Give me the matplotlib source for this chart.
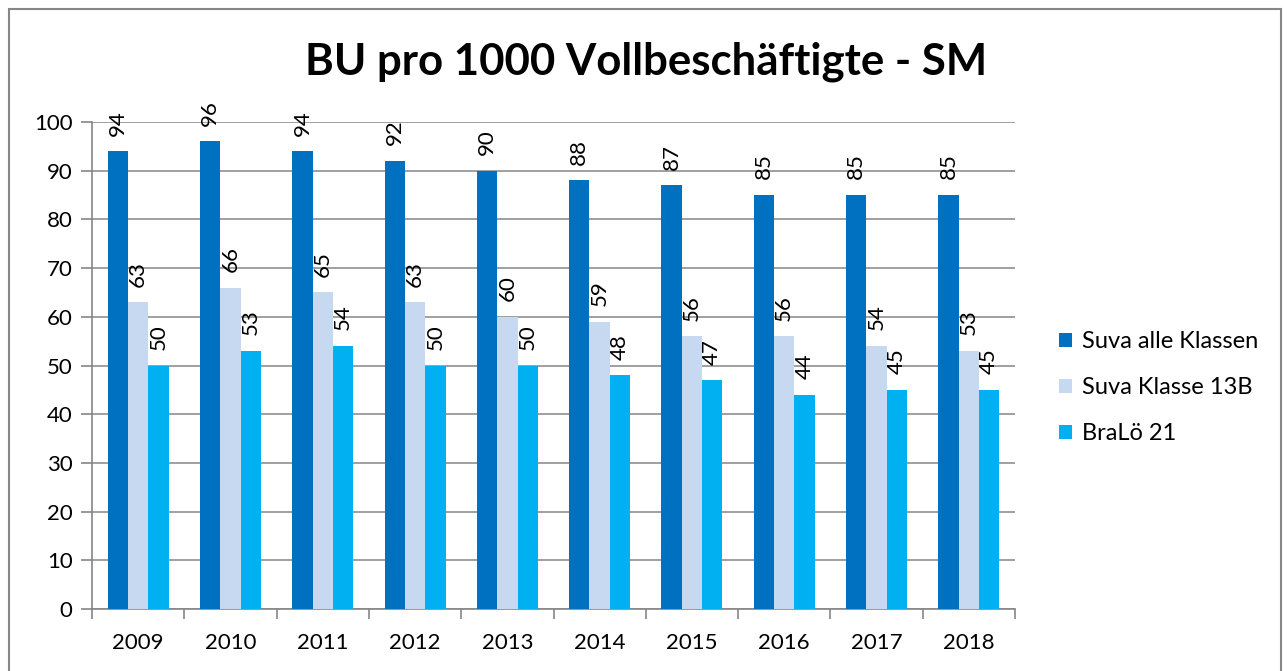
import numpy as np
import matplotlib
matplotlib.use("Agg")
import matplotlib.pyplot as plt
from matplotlib.patches import Rectangle

# ── Data ──────────────────────────────────────────────────────────────────────
years = ["2009", "2010", "2011", "2012", "2013", "2014", "2015", "2016", "2017", "2018"]
suva_alle = [94, 96, 94, 92, 90, 88, 87, 85, 85, 85]
suva_13b = [63, 66, 65, 63, 60, 59, 56, 56, 54, 53]
bralo_21 = [50, 53, 54, 50, 50, 48, 47, 44, 45, 45]

series_names = ["Suva alle Klassen", "Suva Klasse 13B", "BraLö 21"]
colors = ["#0070C0", "#C6D9F1", "#00B0F0"]

plt.rcParams["font.family"] = ["Lato", "DejaVu Sans"]

fig = plt.figure(figsize=(12.87, 6.71), dpi=100)
ax = fig.add_axes([92 / 1287, 1 - 609 / 671, (1015 - 92) / 1287, (609 - 122) / 671])

x = np.arange(len(years))
w = 0.22
for k, (vals, name, col) in enumerate(zip([suva_alle, suva_13b, bralo_21], series_names, colors)):
    bars = ax.bar(x + (k - 1) * w, vals, width=w, color=col, label=name, zorder=3)
    for b, v in zip(bars, vals):
        ax.text(b.get_x() + b.get_width() / 2, v + 3.2, str(v), rotation=90,
                ha="center", va="bottom", fontsize=16, zorder=4)

ax.set_xlim(-0.5, len(years) - 0.5)
ax.set_ylim(0, 100)
ax.set_yticks(range(0, 101, 10))
ax.set_xticks(x)
ax.set_xticklabels(years)
ax.set_xticks(np.arange(-0.5, len(years)), minor=True)
ax.tick_params(axis="x", which="major", length=0, pad=17, labelsize=16)
ax.tick_params(axis="x", which="minor", length=7, color="#868686", width=1.2)
ax.tick_params(axis="y", length=8, color="#868686", width=1.2, labelsize=16, pad=6)
ax.grid(axis="y", color="#868686", linewidth=1.1, zorder=0)
for s in ["top", "right"]:
    ax.spines[s].set_visible(False)
ax.spines["left"].set_color("#868686")
ax.spines["bottom"].set_color("#868686")
ax.spines["left"].set_linewidth(1.2)
ax.spines["bottom"].set_linewidth(1.2)
ax.set_axisbelow(True)

fig.text(646 / 1287, 1 - 62 / 671, "BU pro 1000 Vollbeschäftigte - SM", ha="center", va="center",
         fontsize=31.5, fontweight="bold")

fig.legend(loc="upper left", bbox_to_anchor=(1050 / 1287, 1 - 322 / 671), frameon=False,
           fontsize=17, handlelength=0.55, handleheight=0.55, handletextpad=0.4,
           labelspacing=1.05, borderaxespad=0)

fig.patches.append(Rectangle((9 / 1287, -0.05), (1281 - 9) / 1287, 1.05 - 9 / 671,
                             transform=fig.transFigure, fill=False, edgecolor="#868686",
                             linewidth=1.5))

fig.savefig("out.png", dpi=100)
